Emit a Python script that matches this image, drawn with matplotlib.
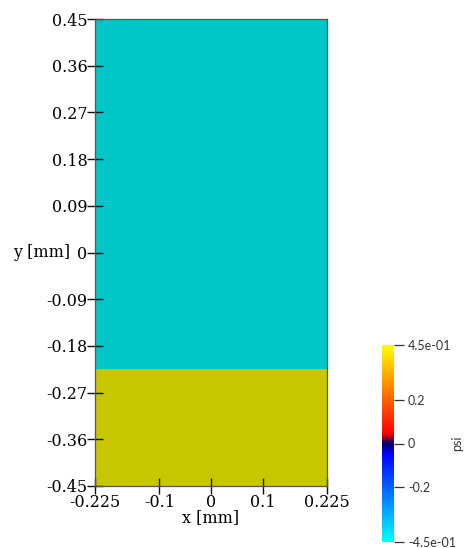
import numpy as np
import matplotlib.pyplot as plt
from matplotlib.colors import LinearSegmentedColormap, ListedColormap, Normalize

# campo psi em duas camadas (mm)
x_edges = [-0.225, 0.225]
y_edges = [-0.45, -0.225, 0.45]
psi = [[0.45], [-0.45]]

xticks = [-0.225, -0.1, 0, 0.1, 0.225]
xticklabels = ['-0.225', '-0.1', '0', '0.1', '0.225']
yticks = [0.45, 0.36, 0.27, 0.18, 0.09, 0, -0.09, -0.18, -0.27, -0.36, -0.45]
yticklabels = ['0.45', '0.36', '0.27', '0.18', '0.09', '0',
               '-0.09', '-0.18', '-0.27', '-0.36', '-0.45']
cbar_ticks = [-0.45, -0.2, 0, 0.2, 0.45]
cbar_labels = ['-4.5e-01', '-0.2', '0', '0.2', '4.5e-01']

# mapa "cold and hot"
cold_hot = LinearSegmentedColormap.from_list('cold_hot', [
    (0.0, (0, 1, 1)),
    (0.45, (0, 0, 1)),
    (0.5, (0, 0, 0.4)),
    (0.55, (1, 0, 0)),
    (1.0, (1, 1, 0)),
])
# versão sombreada para a superfície
rgb = cold_hot(np.linspace(0, 1, 256))
rgb[:, :3] *= 0.78
shaded = ListedColormap(rgb)
norm = Normalize(-0.45, 0.45)

fig = plt.figure(figsize=(4.69, 5.48), dpi=100)
ax = fig.add_axes([95 / 469, 1 - 486 / 548, 232 / 469, 467 / 548])
ax.pcolormesh(x_edges, y_edges, psi, cmap=shaded, norm=norm)
ax.set_xlim(-0.225, 0.225)
ax.set_ylim(-0.45, 0.45)

serif = 'DejaVu Serif'
fs = 11.5
ax.set_xticks(xticks)
ax.set_xticklabels(xticklabels, family=serif, fontsize=fs)
ax.set_yticks(yticks)
ax.set_yticklabels(yticklabels, family=serif, fontsize=fs)
ax.tick_params(direction='inout', length=11, width=1.0, color='#111111', pad=0)
for s in ax.spines.values():
    s.set_color('#555555')
    s.set_linewidth(0.9)
ax.set_xlabel('x [mm]', family=serif, fontsize=fs, labelpad=-1)
ax.text(-0.105, 0.5, 'y [mm]', transform=ax.transAxes, family=serif,
        fontsize=fs, ha='right', va='center')

# barra de cores
cax = fig.add_axes([382 / 469, 1 - 542 / 548, 12 / 469, 197 / 548])
sm = plt.cm.ScalarMappable(norm=norm, cmap=cold_hot)
cb = fig.colorbar(sm, cax=cax)
cb.outline.set_visible(False)
cb.set_ticks(cbar_ticks)
cb.set_ticklabels(cbar_labels)
cax.tick_params(length=7, width=0.9, color='#333333', labelsize=9, pad=3,
                labelcolor='#333333')
for lab in cax.get_yticklabels():
    lab.set_family('Lato')
cax.text(6.3, 0.5, 'psi', transform=cax.transAxes, rotation=90, family='Lato',
         fontsize=9, va='center', ha='center', color='#333333')

fig.savefig('out.png', dpi=100)
